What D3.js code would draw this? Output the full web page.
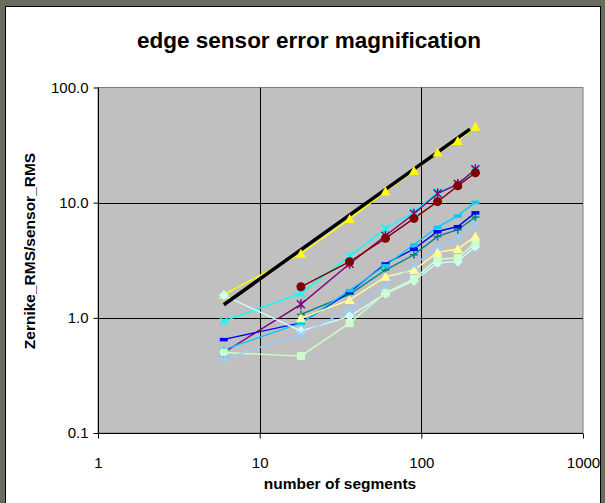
<!DOCTYPE html>
<html><head><meta charset="utf-8">
<script src="https://cdn.jsdelivr.net/npm/d3@7"></script>
<style>
html,body{margin:0;padding:0;background:#6b6c5d;}
svg{display:block;}
text{font-family:"Liberation Sans",Arial,sans-serif;}
</style></head>
<body>
<script>
const segments = [6, 18, 36, 60, 90, 126, 168, 216];
const xTicks = [1, 10, 100, 1000];
const xTickLabels = ["1", "10", "100", "1000"];
const yTicks = [0.1, 1, 10, 100];
const yTickLabels = ["0.1", "1.0", "10.0", "100.0"];

const yellowTri   = [1.59, 3.6, 7.2, 12.5, 18.8, 27.2, 34.3, 45.6];
const cyanX       = [0.935, 1.63, 3.44, 5.95, 8.3, 12.3, 14.5, 19.0];
const purpleStar  = [0.5, 1.31, 2.95, 5.16, 8.0, 12.0, 14.5, 19.5];
const maroonCirc  = [null, 1.86, 3.07, 4.9, 7.3, 10.2, 14.0, 18.2];
const tealPlus    = [null, 1.07, 1.6, 2.6, 3.53, 5.09, 5.82, 7.49];
const blueDash    = [0.65, 0.905, 1.67, 2.95, 3.96, 5.62, 6.21, 8.2];
const skyDash     = [0.53, 0.9, 1.73, 2.85, 4.31, 6.14, 7.69, 10.1];
const turqDiamond = [1.57, 0.77, 1.03, 1.62, 2.1, 2.99, 3.09, 4.17];
const greenSquare = [0.5, 0.465, 0.9, 1.65, 2.18, 3.24, 3.31, 4.5];
const lyellowTri  = [null, 0.99, 1.43, 2.27, 2.6, 3.7, 3.96, 5.09];
const paleBlueX   = [0.44, 0.72, 1.18, 1.88, 2.85, 4.17, 4.93, 6.43];
const theoryX     = [6, 200];
const theoryY     = [1.3, 43.5];

const series = [
  {v: yellowTri,   color: "#FFFF00", m: "tri"},
  {v: cyanX,       color: "#00FFFF", m: "x"},
  {v: purpleStar,  color: "#800080", m: "star"},
  {v: maroonCirc,  color: "#800000", m: "circle"},
  {v: tealPlus,    color: "#008080", m: "plus"},
  {v: blueDash,    color: "#0000FF", m: "dash"},
  {v: skyDash,     color: "#00CCFF", m: "dash"},
  {v: turqDiamond, color: "#CCFFFF", m: "diamond"},
  {v: greenSquare, color: "#CCFFCC", m: "square"},
  {v: lyellowTri,  color: "#FFFF99", m: "tri"},
  {v: paleBlueX,   color: "#99CCFF", m: "x"}
];

const W = 605, H = 503;
const svg = d3.select("body").append("svg").attr("width", W).attr("height", H);

svg.append("rect").attr("x", 5.5).attr("y", 6.5).attr("width", 595).attr("height", 500)
  .attr("fill", "#fff").attr("stroke", "#000").attr("stroke-width", 1);

const x = d3.scaleLog().domain([1, 1000]).range([98, 583]);
const y = d3.scaleLog().domain([0.1, 100]).range([433, 87.5]);

// plot area
svg.append("rect").attr("x", x(1)).attr("y", y(100)).attr("width", x(1000) - x(1)).attr("height", y(0.1) - y(100))
  .attr("fill", "#C0C0C0").attr("stroke", "#808080").attr("stroke-width", 1);

// gridlines
const g = svg.append("g");
g.selectAll(".vg").data([10, 100]).enter().append("line")
  .attr("x1", d => Math.round(x(d)) + 0.5).attr("x2", d => Math.round(x(d)) + 0.5)
  .attr("y1", y(100)).attr("y2", y(0.1)).attr("stroke", "#000").attr("stroke-width", 1);
g.selectAll(".hg").data([1, 10]).enter().append("line")
  .attr("y1", d => Math.round(y(d)) + 0.5).attr("y2", d => Math.round(y(d)) + 0.5)
  .attr("x1", x(1)).attr("x2", x(1000)).attr("stroke", "#000").attr("stroke-width", 1);

// axes
const ax = svg.append("g").attr("transform", `translate(0,${Math.round(y(0.1)) + 0.5})`)
  .call(d3.axisBottom(x).tickValues(xTicks).tickFormat((d, i) => xTickLabels[i]).tickSize(5).tickPadding(19));
const ay = svg.append("g").attr("transform", `translate(${Math.round(x(1)) + 0.5},0)`)
  .call(d3.axisLeft(y).tickValues(yTicks).tickFormat((d, i) => yTickLabels[i]).tickSize(5).tickPadding(5));
[ax, ay].forEach(a => {
  a.selectAll("path").attr("stroke", "#000");
  a.selectAll("line").attr("stroke", "#000");
  a.selectAll("text").attr("font-size", 15).attr("fill", "#000")
    .style("font-family", '"Liberation Sans",Arial,sans-serif');
});
ax.select("path.domain").attr("d", `M${x(1)},0H${x(1000)}`);
ay.select("path.domain").attr("d", `M0,${y(0.1)}V${y(100)}`);

// series lines
const clip = svg.append("g");
const line = d3.line().defined(d => d[1] != null).x(d => x(d[0])).y(d => y(d[1]));
series.forEach(s => {
  const pts = segments.map((n, i) => [n, s.v[i]]);
  clip.append("path").datum(pts).attr("d", line).attr("fill", "none")
    .attr("stroke", s.color).attr("stroke-width", 1.4);
});
// theory line
clip.append("path").datum(theoryX.map((n, i) => [n, theoryY[i]])).attr("d", line)
  .attr("fill", "none").attr("stroke", "#000").attr("stroke-width", 3.5);

// markers
function marker(sel, m, color) {
  const s = 4;
  if (m === "tri") sel.append("path").attr("d", `M0,${-s-1}L${s+1},${s}L${-s-1},${s}Z`).attr("fill", color);
  else if (m === "circle") sel.append("circle").attr("r", s+0.5).attr("fill", color);
  else if (m === "diamond") sel.append("path").attr("d", `M0,${-s-1}L${s+1},0L0,${s+1}L${-s-1},0Z`).attr("fill", color);
  else if (m === "square") sel.append("rect").attr("x", -s).attr("y", -s).attr("width", 2*s).attr("height", 2*s).attr("fill", color);
  else if (m === "dash") sel.append("rect").attr("x", -s).attr("y", -1.5).attr("width", 2*s).attr("height", 3.5).attr("fill", color);
  else if (m === "x") sel.append("path").attr("d", `M${-s},${-s}L${s},${s}M${-s},${s}L${s},${-s}`).attr("stroke", color).attr("stroke-width", 1.5);
  else if (m === "plus") sel.append("path").attr("d", `M${-s},0L${s},0M0,${-s}L0,${s}`).attr("stroke", color).attr("stroke-width", 1.5);
  else if (m === "star") sel.append("path").attr("d", `M${-s},${-s}L${s},${s}M${-s},${s}L${s},${-s}M0,${-s-1}L0,${s+1}`).attr("stroke", color).attr("stroke-width", 1.5);
}
series.forEach(s => {
  segments.forEach((n, i) => {
    if (s.v[i] == null) return;
    const gm = clip.append("g").attr("transform", `translate(${x(n)},${y(s.v[i])})`);
    marker(gm, s.m, s.color);
  });
});

// titles
svg.append("text").attr("x", 309).attr("y", 48).attr("text-anchor", "middle")
  .attr("font-size", 22.5).attr("font-weight", "bold").text("edge sensor error magnification");
svg.append("text").attr("x", 340).attr("y", 489).attr("text-anchor", "middle")
  .attr("font-size", 15.5).attr("font-weight", "bold").text("number of segments");
svg.append("text").attr("transform", `translate(35,251) rotate(-90)`).attr("text-anchor", "middle")
  .attr("font-size", 15.5).attr("font-weight", "bold").text("Zernike_RMS/sensor_RMS");
</script>
</body></html>
